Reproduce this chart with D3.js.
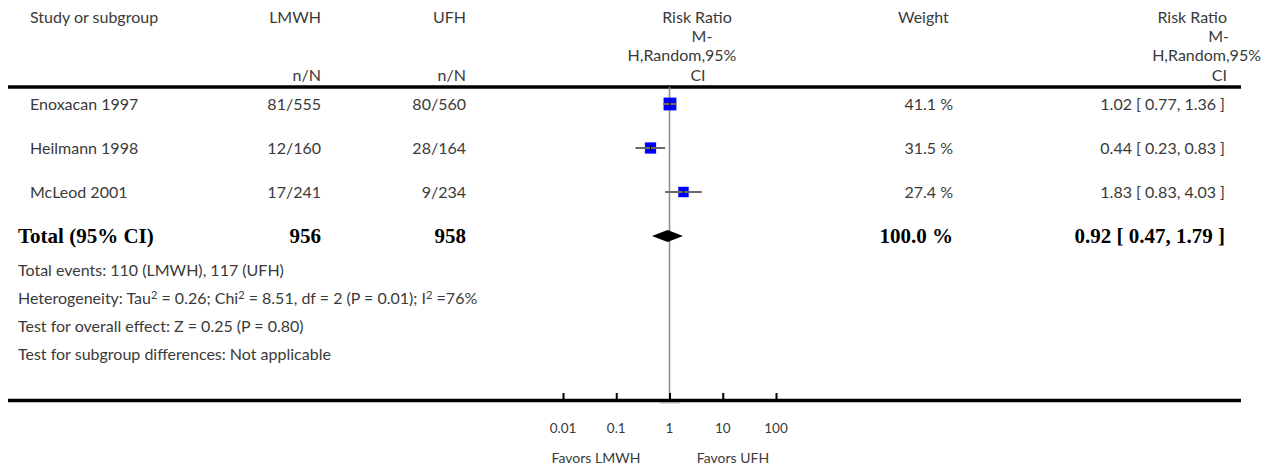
<!DOCTYPE html>
<html>
<head>
<meta charset="utf-8">
<script src="https://cdn.jsdelivr.net/npm/d3@7/dist/d3.min.js"></script>
<style>
  html, body { margin: 0; padding: 0; background: #fff; }
  svg { display: block; }
  .t { font-family: Lato, "Open Sans", sans-serif; font-size: 16px; fill: #3a3a3a; }
  .s { font-family: Lato, "Open Sans", sans-serif; font-size: 14px; fill: #3a3a3a; }
  .b { font-family: "Liberation Serif", "Times New Roman", serif; font-size: 21px; font-weight: bold; fill: #000; }
</style>
</head>
<body>
<svg id="chart" width="1270" height="470"></svg>
<script>
// Study-level data (LMWH vs UFH, risk ratio, M-H random effects)
const studies    = ["Enoxacan 1997", "Heilmann 1998", "McLeod 2001"];
const lmwhEvents = [81, 12, 17];
const lmwhTotal  = [555, 160, 241];
const ufhEvents  = [80, 28, 9];
const ufhTotal   = [560, 164, 234];
const weights    = [41.1, 31.5, 27.4];
const rr         = [1.02, 0.44, 1.83];
const rrLow      = [0.77, 0.23, 0.83];
const rrHigh     = [1.36, 0.83, 4.03];

// Pooled estimate
const pooled = { rr: 0.92, low: 0.47, high: 1.79, weight: 100.0 };
const totalLmwhN = 956, totalUfhN = 958;
const totalLmwhEvents = 110, totalUfhEvents = 117;

const axisTicks = [0.01, 0.1, 1, 10, 100];
const tickLabels = ["0.01", "0.1", "1", "10", "100"];

const svg = d3.select("#chart");

const x = d3.scaleLog().domain([0.01, 100]).range([563, 776]);
// row positions: three studies then the total row
const y = d3.scaleLinear().domain([0, 3]).range([104, 236]);

const colStudy = 30, colLmwh = 321, colUfh = 466, colWeight = 953, colRR = 1225;
const headerLineY = 87, axisY = 400.5, lineX0 = 8, lineX1 = 1241;

// ---- header ----
const hdr = svg.append("g").attr("class", "t");
const h1 = 17, hStep = 19.3;
hdr.append("text").attr("x", colStudy).attr("y", h1).attr("dy", "0.35em").text("Study or subgroup");
hdr.append("text").attr("x", colLmwh).attr("y", h1).attr("dy", "0.35em").attr("text-anchor", "end").text("LMWH");
hdr.append("text").attr("x", colUfh).attr("y", h1).attr("dy", "0.35em").attr("text-anchor", "end").text("UFH");
hdr.append("text").attr("x", colLmwh).attr("y", h1 + 3 * hStep).attr("dy", "0.35em").attr("text-anchor", "end").text("n/N");
hdr.append("text").attr("x", colUfh).attr("y", h1 + 3 * hStep).attr("dy", "0.35em").attr("text-anchor", "end").text("n/N");
hdr.append("text").attr("x", 898).attr("y", h1).attr("dy", "0.35em").text("Weight");

const rrHeadMid = [["Risk Ratio", 697], ["M-", 702], ["H,Random,95%", 682], ["CI", 698]];
rrHeadMid.forEach((d, i) => {
  hdr.append("text").attr("x", d[1]).attr("y", h1 + i * hStep).attr("dy", "0.35em")
    .attr("text-anchor", "middle").text(d[0]);
});
const rrHeadRight = [["Risk Ratio", 1227], ["M-", 1229], ["H,Random,95%", 1261], ["CI", 1227]];
rrHeadRight.forEach((d, i) => {
  hdr.append("text").attr("x", d[1]).attr("y", h1 + i * hStep).attr("dy", "0.35em")
    .attr("text-anchor", "end").text(d[0]);
});

// ---- rule lines ----
svg.append("line").attr("x1", lineX0).attr("x2", lineX1).attr("y1", headerLineY).attr("y2", headerLineY)
  .attr("stroke", "#000").attr("stroke-width", 3.5);

// line of no effect
svg.append("line").attr("x1", x(1)).attr("x2", x(1)).attr("y1", headerLineY).attr("y2", axisY)
  .attr("stroke", "#8a8a8a").attr("stroke-width", 1.5);

// ---- study rows ----
const rows = svg.append("g");
studies.forEach((s, i) => {
  const yy = y(i);
  rows.append("text").attr("class", "t").attr("x", colStudy).attr("y", yy).attr("dy", "0.35em").text(s);
  rows.append("text").attr("class", "t").attr("x", colLmwh).attr("y", yy).attr("dy", "0.35em")
    .attr("text-anchor", "end").text(lmwhEvents[i] + "/" + lmwhTotal[i]);
  rows.append("text").attr("class", "t").attr("x", colUfh).attr("y", yy).attr("dy", "0.35em")
    .attr("text-anchor", "end").text(ufhEvents[i] + "/" + ufhTotal[i]);
  rows.append("text").attr("class", "t").attr("x", colWeight).attr("y", yy).attr("dy", "0.35em")
    .attr("text-anchor", "end").text(weights[i].toFixed(1) + " %");
  rows.append("text").attr("class", "t").attr("x", colRR).attr("y", yy).attr("dy", "0.35em")
    .attr("text-anchor", "end")
    .text(rr[i].toFixed(2) + " [ " + rrLow[i].toFixed(2) + ", " + rrHigh[i].toFixed(2) + " ]");

  const side = 2 * Math.sqrt(weights[i]);
  rows.append("rect").attr("x", x(rr[i]) - side / 2).attr("y", yy - side / 2)
    .attr("width", side).attr("height", side).attr("fill", "#0000ff");
  rows.append("line").attr("x1", x(rrLow[i])).attr("x2", x(rrHigh[i])).attr("y1", yy).attr("y2", yy)
    .attr("stroke", "#6a6a6a").attr("stroke-width", 2);
  rows.append("line").attr("x1", x(rr[i])).attr("x2", x(rr[i])).attr("y1", yy - 2.5).attr("y2", yy + 2.5)
    .attr("stroke", "#000").attr("stroke-width", 1);
});

// ---- total row ----
const yt = y(3);
svg.append("text").attr("class", "b").attr("x", 18).attr("y", yt).attr("dy", "0.35em").text("Total (95% CI)");
svg.append("text").attr("class", "b").attr("x", colLmwh).attr("y", yt).attr("dy", "0.35em")
  .attr("text-anchor", "end").text(totalLmwhN);
svg.append("text").attr("class", "b").attr("x", colUfh).attr("y", yt).attr("dy", "0.35em")
  .attr("text-anchor", "end").text(totalUfhN);
svg.append("text").attr("class", "b").attr("x", colWeight).attr("y", yt).attr("dy", "0.35em")
  .attr("text-anchor", "end").text(pooled.weight.toFixed(1) + " %");
svg.append("text").attr("class", "b").attr("x", colRR).attr("y", yt).attr("dy", "0.35em")
  .attr("text-anchor", "end")
  .text(pooled.rr.toFixed(2) + " [ " + pooled.low.toFixed(2) + ", " + pooled.high.toFixed(2) + " ]");

const dh = 6;
svg.append("path")
  .attr("d", d3.line()([[x(pooled.low), yt], [x(pooled.rr), yt - dh], [x(pooled.high), yt], [x(pooled.rr), yt + dh]]) + "Z")
  .attr("fill", "#000");

// ---- footnotes ----
const foot = svg.append("g").attr("class", "t");
const fx = 18, fy = [270, 298, 326, 354];
foot.append("text").attr("x", fx).attr("y", fy[0]).attr("dy", "0.35em")
  .text("Total events: " + totalLmwhEvents + " (LMWH), " + totalUfhEvents + " (UFH)");
const het = foot.append("text").attr("x", fx).attr("y", fy[1]).attr("dy", "0.35em");
const sup = t => het.append("tspan").style("font-size", "11px").attr("dy", -5).text(t);
const base = t => het.append("tspan").attr("dy", 5).text(t);
het.append("tspan").text("Heterogeneity: Tau");
sup("2"); base(" = 0.26; Chi");
sup("2"); base(" = 8.51, df = 2 (P = 0.01); I");
sup("2"); base(" =76%");
foot.append("text").attr("x", fx).attr("y", fy[2]).attr("dy", "0.35em").text("Test for overall effect: Z = 0.25 (P = 0.80)");
foot.append("text").attr("x", fx).attr("y", fy[3]).attr("dy", "0.35em").text("Test for subgroup differences: Not applicable");

// ---- axis ----
svg.append("line").attr("x1", x(1) - 10).attr("x2", x(1) + 10).attr("y1", axisY + 2.5).attr("y2", axisY + 2.5)
  .attr("stroke", "#bbb").attr("stroke-width", 1);
svg.append("line").attr("x1", lineX0).attr("x2", lineX1).attr("y1", axisY).attr("y2", axisY)
  .attr("stroke", "#000").attr("stroke-width", 3.5);

const axis = d3.axisTop(x).tickValues(axisTicks).tickSize(6).tickFormat("");
const ag = svg.append("g").attr("transform", `translate(0,${axisY - 1.5})`).call(axis);
ag.select(".domain").remove();
ag.selectAll(".tick line").attr("stroke", "#000").attr("stroke-width", 2);

svg.append("g").selectAll("text").data(axisTicks).join("text")
  .attr("class", "s").style("font-size", "13.5px")
  .attr("x", d => x(d)).attr("y", 428).attr("dy", "0.35em").attr("text-anchor", "middle")
  .text((d, i) => tickLabels[i]);

svg.append("text").attr("class", "s").attr("x", 596).attr("y", 458)
  .attr("dy", "0.35em").attr("text-anchor", "middle").text("Favors LMWH");
svg.append("text").attr("class", "s").attr("x", 733).attr("y", 458)
  .attr("dy", "0.35em").attr("text-anchor", "middle").text("Favors UFH");
</script>
</body>
</html>
